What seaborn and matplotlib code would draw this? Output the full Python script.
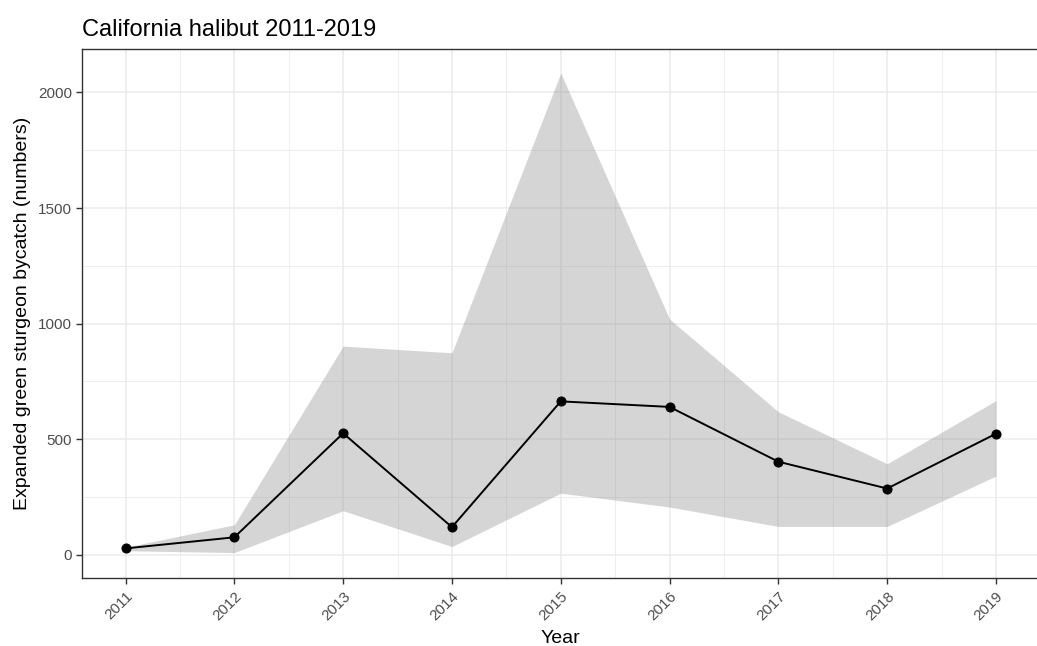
import matplotlib
matplotlib.use("Agg")
import matplotlib.pyplot as plt
from matplotlib.ticker import MultipleLocator
import seaborn as sns
import pandas as pd

# Expanded green sturgeon bycatch estimates with interval bounds
years = [2011, 2012, 2013, 2014, 2015, 2016, 2017, 2018, 2019]
estimate = [28, 76, 526, 120, 664, 640, 403, 287, 524]
lower = [18, 10, 191, 36, 267, 207, 123, 123, 341]
upper = [33, 130, 903, 874, 2084, 1020, 619, 394, 667]
y_ticks = [0, 500, 1000, 1500, 2000]

df = pd.DataFrame({"Year": years, "estimate": estimate,
                   "lower": lower, "upper": upper})

sns.set_theme(style="white")
plt.rcParams["font.family"] = ["Liberation Sans", "DejaVu Sans"]

W, H = 1037, 646
fig = plt.figure(figsize=(W / 100, H / 100), dpi=100)
left, right, top, bottom = 82, 1039.5, 49, 578
ax = fig.add_axes([left / W, 1 - bottom / H, (right - left) / W, (bottom - top) / H])

# grid
ax.set_axisbelow(True)
ax.xaxis.set_major_locator(MultipleLocator(1))
ax.xaxis.set_minor_locator(MultipleLocator(0.5))
ax.set_yticks(y_ticks)
ax.yaxis.set_minor_locator(MultipleLocator(250))
ax.grid(which="major", color="#EBEBEB", linewidth=1.1)
ax.grid(which="minor", color="#EBEBEB", linewidth=0.6)

# interval ribbon
ax.fill_between(df["Year"], df["lower"], df["upper"], color="#7F7F7F",
                alpha=0.32, linewidth=0, zorder=2)

# estimate line with points
sns.lineplot(data=df, x="Year", y="estimate", ax=ax, color="black",
             linewidth=1.4, marker="o", markersize=6.5,
             markeredgecolor="black", zorder=3)

ax.set_xlim(2010.6, 2019.4)
ax.set_ylim(-100, 2188)
ax.set_xticks(years)
ax.set_xticklabels([str(y) for y in years], rotation=45, ha="right",
                   rotation_mode="anchor")

for s in ["left", "bottom", "top", "right"]:
    ax.spines[s].set_color("#333333")
    ax.spines[s].set_linewidth(1.0)
ax.tick_params(axis="both", which="major", length=4, width=1.0,
               color="#333333", labelcolor="#4D4D4D", labelsize=11,
               bottom=True, left=True)
ax.tick_params(axis="x", pad=4)
ax.tick_params(axis="y", pad=3)
ax.tick_params(which="minor", length=0)

ax.set_xlabel("Year", fontsize=14, color="black", labelpad=5)
ax.set_ylabel("Expanded green sturgeon bycatch (numbers)", fontsize=14,
              color="black", labelpad=5)
ax.set_title("California halibut 2011-2019", fontsize=17, loc="left",
             color="black", pad=9, x=0.0)

fig.savefig("out.png", dpi=100)
